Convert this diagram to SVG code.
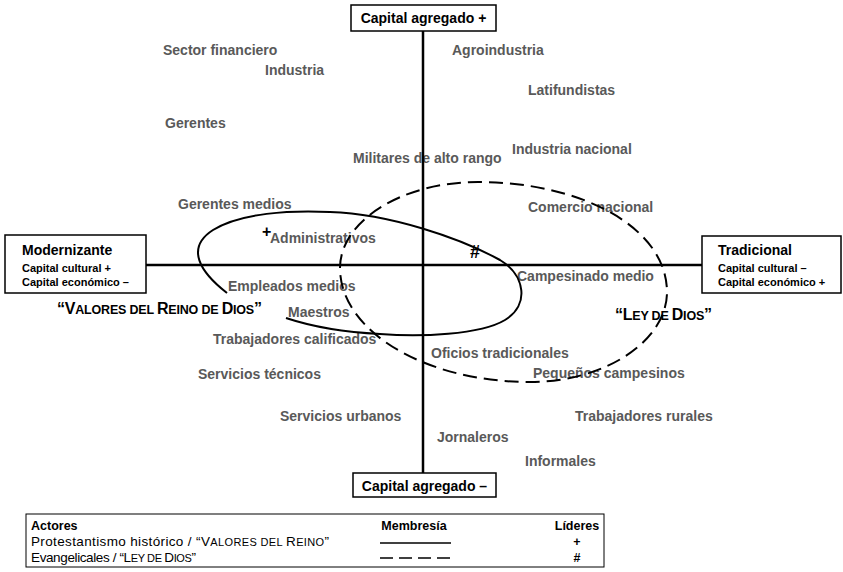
<svg xmlns="http://www.w3.org/2000/svg" width="843" height="572" viewBox="0 0 843 572">
  <style>
    text { font-family: "Liberation Sans", Arial, sans-serif; }
    .actor { font-size: 14px; font-weight: bold; fill: #595959; }
    .box { fill: #ffffff; stroke: #000000; stroke-width: 1.5; }
    .boxtitle { font-size: 14px; font-weight: bold; fill: #000000; }
    .boxsub { font-size: 11px; font-weight: bold; fill: #000000; }
    .axis { stroke: #000000; stroke-width: 2.5; fill: none; }
    .member { stroke: #000000; stroke-width: 2; fill: none; }
    .dashed { stroke-dasharray: 14 7; }
    .mark { font-weight: bold; fill: #000000; }
    .grp { font-weight: bold; fill: #000000; }
    .leg { font-size: 13.5px; fill: #000000; }
    .legb { font-size: 12.5px; font-weight: bold; fill: #000000; }
  </style>

  <!-- social actors -->
  <g id="actors">
    <g id="sector-financiero"><text class="actor" x="163" y="55">Sector financiero</text></g>
    <g id="industria"><text class="actor" x="265" y="75">Industria</text></g>
    <g id="agroindustria"><text class="actor" x="452" y="55">Agroindustria</text></g>
    <g id="latifundistas"><text class="actor" x="528" y="95">Latifundistas</text></g>
    <g id="gerentes"><text class="actor" x="165" y="128">Gerentes</text></g>
    <g id="militares"><text class="actor" x="353" y="163">Militares de alto rango</text></g>
    <g id="industria-nacional"><text class="actor" x="512" y="154">Industria nacional</text></g>
    <g id="gerentes-medios"><text class="actor" x="178" y="209">Gerentes medios</text></g>
    <g id="comercio-nacional"><text class="actor" x="528" y="212">Comercio nacional</text></g>
    <g id="administrativos"><text class="actor" x="270" y="243">Administrativos</text></g>
    <g id="empleados-medios"><text class="actor" x="228" y="291">Empleados medios</text></g>
    <g id="campesinado-medio"><text class="actor" x="517" y="281">Campesinado medio</text></g>
    <g id="maestros"><text class="actor" x="288" y="317">Maestros</text></g>
    <g id="trabajadores-calificados"><text class="actor" x="213" y="344">Trabajadores calificados</text></g>
    <g id="oficios-tradicionales"><text class="actor" x="431" y="358">Oficios tradicionales</text></g>
    <g id="servicios-tecnicos"><text class="actor" x="198" y="379">Servicios técnicos</text></g>
    <g id="pequenos-campesinos"><text class="actor" x="533" y="378">Pequeños campesinos</text></g>
    <g id="servicios-urbanos"><text class="actor" x="280" y="421">Servicios urbanos</text></g>
    <g id="trabajadores-rurales"><text class="actor" x="575" y="421">Trabajadores rurales</text></g>
    <g id="jornaleros"><text class="actor" x="437" y="442">Jornaleros</text></g>
    <g id="informales"><text class="actor" x="525" y="466">Informales</text></g>
  </g>

  <!-- axes and membership curves -->
  <g id="connectors">
    <line class="axis" x1="423" y1="31" x2="423" y2="473"/>
    <line class="axis" x1="146" y1="265" x2="702" y2="265"/>
    <path id="valores-reino" class="member"
          d="M 227,293 C 200,272 185,248 213,230 C 240,213 290,210 330,212 C 390,214 460,238 500,260 C 525,275 530,305 505,320 C 480,335 420,337 380,334 C 340,332 310,326 286,318"/>
    <path id="ley-dios" class="member dashed"
          d="M 340,268 C 340,221 402,182 478,182 C 582,182 667,228 667,292 C 667,341 605,382 530,382 C 425,382 340,331 340,268 Z"/>
  </g>

  <!-- leader markers -->
  <g id="leader-historico"><text class="mark" x="262" y="237" font-size="16">+</text></g>
  <g id="leader-evangelical"><text class="mark" x="470" y="258" font-size="18">#</text></g>

  <!-- axis end boxes -->
  <g id="capital-mas">
    <rect class="box" x="351" y="5" width="145" height="26"/>
    <text class="boxtitle" x="423.5" y="23" text-anchor="middle">Capital agregado +</text>
  </g>
  <g id="capital-menos">
    <rect class="box" x="353" y="473" width="143" height="24"/>
    <text class="boxtitle" x="424.5" y="491" text-anchor="middle">Capital agregado –</text>
  </g>
  <g id="modernizante">
    <rect class="box" x="5" y="235" width="141" height="58"/>
    <text class="boxtitle" x="22" y="255" font-size="14.5">Modernizante</text>
    <text class="boxsub" x="22" y="272">Capital cultural +</text>
    <text class="boxsub" x="22" y="286">Capital económico –</text>
  </g>
  <g id="tradicional">
    <rect class="box" x="702" y="236" width="139" height="57"/>
    <text class="boxtitle" x="718" y="255" font-size="14.5">Tradicional</text>
    <text class="boxsub" x="718" y="272">Capital cultural –</text>
    <text class="boxsub" x="718" y="286">Capital económico +</text>
  </g>

  <!-- membership group names -->
  <g id="label-valores">
    <text class="grp" x="57" y="314" font-size="16" textLength="205" lengthAdjust="spacing">“V<tspan font-size="12.5">ALORES DEL </tspan>R<tspan font-size="12.5">EINO DE </tspan>D<tspan font-size="12.5">IOS</tspan>”</text>
  </g>
  <g id="label-ley">
    <text class="grp" x="615" y="320" font-size="16" textLength="97" lengthAdjust="spacing">“L<tspan font-size="12.5">EY DE </tspan>D<tspan font-size="12.5">IOS</tspan>”</text>
  </g>

  <!-- legend -->
  <g id="legend">
    <rect x="26" y="514" width="578" height="53" fill="#ffffff" stroke="#000000" stroke-width="1"/>
    <text class="legb" x="31" y="530">Actores</text>
    <text class="legb" x="414" y="530" text-anchor="middle">Membresía</text>
    <text class="legb" x="577" y="530" text-anchor="middle">Líderes</text>
    <text class="leg" x="31" y="546" textLength="298" lengthAdjust="spacing">Protestantismo histórico  / “V<tspan font-size="11">ALORES DEL </tspan>R<tspan font-size="11">EINO</tspan>”</text>
    <text class="leg" x="31" y="562" textLength="165" lengthAdjust="spacing">Evangelicales  /  “L<tspan font-size="11">EY DE </tspan>D<tspan font-size="11">IOS</tspan>”</text>
    <line x1="380" y1="543" x2="451" y2="543" stroke="#000000" stroke-width="1.5"/>
    <line x1="380" y1="558" x2="451" y2="558" stroke="#000000" stroke-width="1.5" stroke-dasharray="13 6"/>
    <text class="legb" x="577" y="546" text-anchor="middle">+</text>
    <text class="legb" x="577" y="562" text-anchor="middle">#</text>
  </g>
</svg>
